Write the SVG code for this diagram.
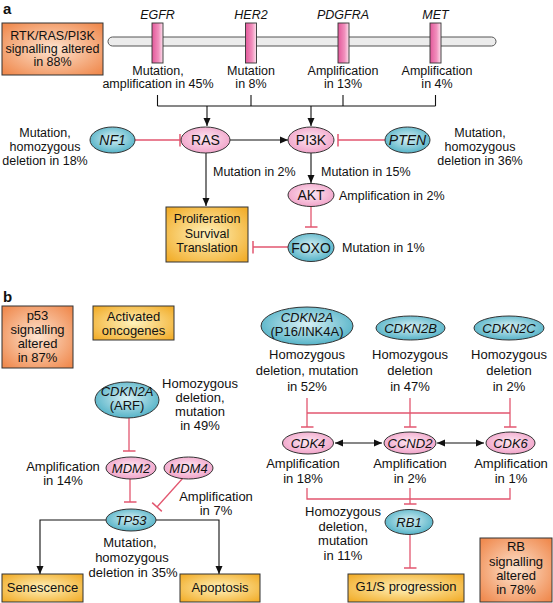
<svg xmlns="http://www.w3.org/2000/svg" width="553" height="603" viewBox="0 0 553 603">
<style>
text{font-family:"Liberation Sans",Arial,sans-serif;fill:#111;}
.a{font-size:12.5px;text-anchor:middle;}
.al{font-size:12.5px;text-anchor:start;}
.b{font-size:13px;text-anchor:middle;}
.n{font-size:14px;text-anchor:middle;}
.i{font-style:italic;}
.lbl{font-size:15px;font-weight:bold;}
.box{stroke:#333;stroke-width:1;}
.or{fill:url(#gO);}
.ye{fill:url(#gY);}
.pk{fill:url(#gP);stroke:#333;stroke-width:1;}
.tl{fill:url(#gT);stroke:#333;stroke-width:1;}
.blk{fill:none;stroke:#111;stroke-width:1.1;}
.red{fill:none;stroke:#e2566f;stroke-width:1.3;}
</style>
<defs>
<radialGradient id="gO" cx="50%" cy="50%" r="65%"><stop offset="0" stop-color="#fde4d0"/><stop offset="1" stop-color="#f08b50"/></radialGradient>
<radialGradient id="gY" cx="50%" cy="50%" r="65%"><stop offset="0" stop-color="#fff2bc"/><stop offset="1" stop-color="#f2ae2c"/></radialGradient>
<radialGradient id="gP" cx="50%" cy="45%" r="60%"><stop offset="0" stop-color="#fde8f2"/><stop offset="1" stop-color="#f09ec6"/></radialGradient>
<radialGradient id="gT" cx="50%" cy="45%" r="60%"><stop offset="0" stop-color="#d8f0f4"/><stop offset="1" stop-color="#4aaec4"/></radialGradient>
<linearGradient id="gR" x1="0" y1="0" x2="1" y2="0"><stop offset="0" stop-color="#e2589a"/><stop offset="0.6" stop-color="#f190bd"/><stop offset="1" stop-color="#fde2ee"/></linearGradient>
<marker id="arr" markerUnits="userSpaceOnUse" markerWidth="8" markerHeight="8" refX="8" refY="4" orient="auto-start-reverse" viewBox="0 0 8 8"><path d="M0,0.5 L8,4 L0,7.5 z" fill="#111"/></marker>
<marker id="tee" markerUnits="userSpaceOnUse" markerWidth="4" markerHeight="13" refX="2" refY="6.5" orient="auto" viewBox="0 0 4 13"><line x1="2" y1="0" x2="2" y2="13" stroke="#e2566f" stroke-width="1.5"/></marker>
</defs>

<text class="lbl" x="3" y="14">a</text>
<text class="lbl" x="3" y="302">b</text>

<g id="connectors">
<path class="blk" d="M157.5,95 V106 M251,95 V106 M343,95 V106 M435.5,95 V106 M157.5,106 H435.5"/>
<line class="blk" x1="207" y1="106" x2="207" y2="126" marker-end="url(#arr)"/>
<line class="blk" x1="311" y1="106" x2="311" y2="126" marker-end="url(#arr)"/>
<line class="red" x1="135" y1="140" x2="180" y2="140" marker-end="url(#tee)"/>
<line class="blk" x1="230" y1="140" x2="288" y2="140" marker-end="url(#arr)"/>
<line class="red" x1="385" y1="140" x2="338" y2="140" marker-end="url(#tee)"/>
<line class="blk" x1="206" y1="153" x2="206" y2="206" marker-end="url(#arr)"/>
<line class="blk" x1="311" y1="153" x2="311" y2="183" marker-end="url(#arr)"/>
<line class="red" x1="311" y1="206" x2="311" y2="227" marker-end="url(#tee)"/>
<line class="red" x1="288" y1="247" x2="253" y2="247" marker-end="url(#tee)"/>
<line class="red" x1="129" y1="418" x2="129" y2="451" marker-end="url(#tee)"/>
<line class="red" x1="130" y1="479" x2="130" y2="502" marker-end="url(#tee)"/>
<line class="red" x1="183" y1="478" x2="157" y2="507" marker-end="url(#tee)"/>
<path class="blk" d="M106,520 H40 V574" marker-end="url(#arr)"/>
<path class="blk" d="M156,520 H219 V574" marker-end="url(#arr)"/>
<path class="red" d="M307,413 H510"/>
<line class="red" x1="307" y1="398" x2="307" y2="427" marker-end="url(#tee)"/>
<line class="red" x1="410" y1="398" x2="410" y2="427" marker-end="url(#tee)"/>
<line class="red" x1="510" y1="398" x2="510" y2="427" marker-end="url(#tee)"/>
<line class="blk" x1="335" y1="443" x2="382" y2="443" marker-start="url(#arr)" marker-end="url(#arr)"/>
<line class="blk" x1="437" y1="443" x2="484" y2="443" marker-start="url(#arr)" marker-end="url(#arr)"/>
<path class="red" d="M307,488 V499 H510 V488"/>
<line class="red" x1="410" y1="488" x2="410" y2="504" marker-end="url(#tee)"/>
<line class="red" x1="410" y1="535" x2="410" y2="568" marker-end="url(#tee)"/>
</g>

<g id="rtk-box">
<rect class="box or" x="2" y="23" width="101" height="52"/>
<text class="a" x="52.5" y="40">RTK/RAS/PI3K</text>
<text class="a" x="52.5" y="53">signalling altered</text>
<text class="a" x="52.5" y="66">in 88%</text>
</g>
<g id="membrane">
<rect x="108" y="37" width="388" height="9" rx="4.5" fill="#ececec" stroke="#555" stroke-width="1"/>
</g>
<g id="egfr">
<rect x="152" y="23" width="11" height="40" fill="url(#gR)" stroke="#333" stroke-width="0.9"/>
<text class="a i" x="157.5" y="19">EGFR</text>
<text class="a" x="158" y="74.5">Mutation,</text>
<text class="a" x="158" y="88">amplification in 45%</text>
</g>
<g id="her2">
<rect x="245.5" y="23" width="11" height="40" fill="url(#gR)" stroke="#333" stroke-width="0.9"/>
<text class="a i" x="251" y="19">HER2</text>
<text class="a" x="251" y="74.5">Mutation</text>
<text class="a" x="251" y="88">in 8%</text>
</g>
<g id="pdgfra">
<rect x="338" y="23" width="11" height="40" fill="url(#gR)" stroke="#333" stroke-width="0.9"/>
<text class="a i" x="343" y="19">PDGFRA</text>
<text class="a" x="343" y="74.5">Amplification</text>
<text class="a" x="343" y="88">in 13%</text>
</g>
<g id="met">
<rect x="430" y="23" width="11" height="40" fill="url(#gR)" stroke="#333" stroke-width="0.9"/>
<text class="a i" x="435.5" y="19">MET</text>
<text class="a" x="437" y="74.5">Amplification</text>
<text class="a" x="437" y="88">in 4%</text>
</g>
<g id="nf1">
<ellipse class="tl" cx="112.5" cy="140" rx="22.5" ry="13"/>
<text class="n i" x="112.5" y="145">NF1</text>
<text class="a" x="45" y="137">Mutation,</text>
<text class="a" x="45" y="151">homozygous</text>
<text class="a" x="45" y="165">deletion in 18%</text>
</g>
<g id="ras">
<ellipse class="pk" cx="205.5" cy="140" rx="24.5" ry="13"/>
<text class="n" x="205.5" y="145">RAS</text>
<text class="al" x="213" y="176">Mutation in 2%</text>
</g>
<g id="pi3k">
<ellipse class="pk" cx="311" cy="140" rx="23" ry="13"/>
<text class="n" x="311" y="145">PI3K</text>
<text class="al" x="321" y="176">Mutation in 15%</text>
</g>
<g id="pten">
<ellipse class="tl" cx="407.5" cy="140" rx="22.5" ry="13"/>
<text class="n i" x="407.5" y="145">PTEN</text>
<text class="a" x="480" y="137">Mutation,</text>
<text class="a" x="480" y="151">homozygous</text>
<text class="a" x="480" y="165">deletion in 36%</text>
</g>
<g id="akt">
<ellipse class="pk" cx="311" cy="195" rx="23" ry="11.5"/>
<text class="n" x="311" y="200">AKT</text>
<text class="al" x="339" y="200">Amplification in 2%</text>
</g>
<g id="foxo">
<ellipse class="tl" cx="311" cy="247.5" rx="23" ry="14"/>
<text class="n" x="311" y="252.5">FOXO</text>
<text class="al" x="342" y="252">Mutation in 1%</text>
</g>
<g id="prolif">
<rect class="box ye" x="166" y="207" width="82" height="55"/>
<text class="a" x="207" y="223">Proliferation</text>
<text class="a" x="207" y="238">Survival</text>
<text class="a" x="207" y="252">Translation</text>
</g>

<g id="p53-box">
<rect class="box or" x="2" y="306" width="71" height="62"/>
<text class="b" x="37.5" y="320">p53</text>
<text class="b" x="37.5" y="334">signalling</text>
<text class="b" x="37.5" y="348">altered</text>
<text class="b" x="37.5" y="362">in 87%</text>
</g>
<g id="onco">
<rect class="box ye" x="93" y="306" width="81" height="34"/>
<text class="b" x="133.5" y="321">Activated</text>
<text class="b" x="133.5" y="335">oncogenes</text>
</g>
<g id="cdkn2a-arf">
<ellipse class="tl" cx="127" cy="400" rx="32" ry="18"/>
<text class="b i" x="127" y="396">CDKN2A</text>
<text class="b" x="127" y="410">(ARF)</text>
<text class="b" x="200" y="388">Homozygous</text>
<text class="b" x="200" y="402">deletion,</text>
<text class="b" x="200" y="416">mutation</text>
<text class="b" x="200" y="430">in 49%</text>
</g>
<g id="mdm2">
<ellipse class="pk" cx="131" cy="468" rx="25" ry="11"/>
<text class="b i" x="131" y="473">MDM2</text>
<text class="b" x="63" y="471">Amplification</text>
<text class="b" x="63" y="485">in 14%</text>
</g>
<g id="mdm4">
<ellipse class="pk" cx="188.5" cy="468" rx="24.5" ry="11"/>
<text class="b i" x="188.5" y="473">MDM4</text>
<text class="b" x="216" y="501">Amplification</text>
<text class="b" x="216" y="515">in 7%</text>
</g>
<g id="tp53">
<ellipse class="tl" cx="131" cy="520" rx="25" ry="11"/>
<text class="b i" x="131" y="525">TP53</text>
<text class="b" x="130" y="547">Mutation,</text>
<text class="b" x="132" y="562">homozygous</text>
<text class="b" x="133" y="577">deletion in 35%</text>
</g>
<g id="senescence">
<rect class="box ye" x="2" y="574" width="81" height="28"/>
<text class="b" x="42.5" y="592">Senescence</text>
</g>
<g id="apoptosis">
<rect class="box ye" x="180" y="574" width="80" height="28"/>
<text class="b" x="220" y="592">Apoptosis</text>
</g>
<g id="cdkn2a-p16">
<ellipse class="tl" cx="307" cy="326" rx="46" ry="19"/>
<text class="b i" x="307" y="322">CDKN2A</text>
<text class="b" x="307" y="336">(P16/INK4A)</text>
<text class="b" x="307" y="359">Homozygous</text>
<text class="b" x="307" y="375">deletion, mutation</text>
<text class="b" x="307" y="391">in 52%</text>
</g>
<g id="cdkn2b">
<ellipse class="tl" cx="410.5" cy="328" rx="34.5" ry="12"/>
<text class="b i" x="410.5" y="333">CDKN2B</text>
<text class="b" x="410" y="359">Homozygous</text>
<text class="b" x="410" y="375">deletion</text>
<text class="b" x="410" y="391">in 47%</text>
</g>
<g id="cdkn2c">
<ellipse class="tl" cx="509" cy="328" rx="35" ry="12"/>
<text class="b i" x="509" y="333">CDKN2C</text>
<text class="b" x="509" y="359">Homozygous</text>
<text class="b" x="509" y="375">deletion</text>
<text class="b" x="509" y="391">in 2%</text>
</g>
<g id="cdk4">
<ellipse class="pk" cx="308" cy="443" rx="25.5" ry="11"/>
<text class="b i" x="308" y="448">CDK4</text>
<text class="b" x="303" y="468">Amplification</text>
<text class="b" x="303" y="483">in 18%</text>
</g>
<g id="ccnd2">
<ellipse class="pk" cx="410" cy="443" rx="26" ry="11"/>
<text class="b i" x="410" y="448">CCND2</text>
<text class="b" x="410" y="468">Amplification</text>
<text class="b" x="410" y="483">in 2%</text>
</g>
<g id="cdk6">
<ellipse class="pk" cx="510.5" cy="443" rx="24.5" ry="11"/>
<text class="b i" x="510.5" y="448">CDK6</text>
<text class="b" x="511" y="468">Amplification</text>
<text class="b" x="511" y="483">in 1%</text>
</g>
<g id="rb1">
<ellipse class="tl" cx="409" cy="522" rx="24" ry="12.5"/>
<text class="b i" x="409" y="527">RB1</text>
<text class="b" x="343" y="516">Homozygous</text>
<text class="b" x="343" y="531">deletion,</text>
<text class="b" x="343" y="545">mutation</text>
<text class="b" x="343" y="560">in 11%</text>
</g>
<g id="g1s">
<rect class="box ye" x="348" y="574" width="116" height="28"/>
<text class="b" x="406" y="591">G1/S progression</text>
</g>
<g id="rb-box">
<rect class="box or" x="480" y="538" width="72" height="64"/>
<text class="b" x="516" y="551">RB</text>
<text class="b" x="516" y="566">signalling</text>
<text class="b" x="516" y="580">altered</text>
<text class="b" x="516" y="594">in 78%</text>
</g>
</svg>
